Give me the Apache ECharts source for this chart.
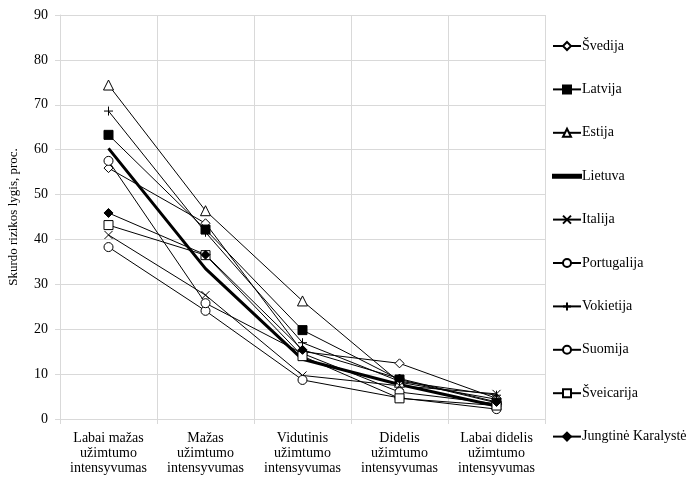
<!DOCTYPE html>
<html>
<head>
<meta charset="utf-8">
<script src="https://cdn.jsdelivr.net/npm/echarts@6/dist/echarts.min.js"></script>
<style>
  html, body { margin: 0; padding: 0; background: #fff; }
  #chart { width: 690px; height: 478px; }
</style>
</head>
<body>
<div id="chart"></div>
<script>
const categories = [
  'Labai mažas\nužimtumo\nintensyvumas',
  'Mažas\nužimtumo\nintensyvumas',
  'Vidutinis\nužimtumo\nintensyvumas',
  'Didelis\nužimtumo\nintensyvumas',
  'Labai didelis\nužimtumo\nintensyvumas'
]
const yTicks = [0, 10, 20, 30, 40, 50, 60, 70, 80, 90]

const svedija = [55.9, 43.6, 15.0, 12.4, 4.6]
const latvija = [63.3, 42.2, 19.8, 8.8, 3.6]
const estija = [74.4, 46.4, 26.3, 8.2, 4.4]
const lietuva = [60.3, 33.5, 13.3, 7.7, 2.9]
const italija = [41.0, 27.6, 9.7, 7.4, 5.6]
const portugalija = [38.3, 24.1, 8.7, 4.7, 2.2]
const vokietija = [68.6, 41.6, 17.0, 8.4, 5.3]
const suomija = [57.5, 25.8, 14.6, 6.0, 3.4]
const sveicarija = [43.2, 36.5, 14.0, 4.6, 3.0]
const jungtine = [45.9, 36.6, 15.4, 9.0, 3.8]

const font = 'Liberation Serif'

// open = white fill, solid = black fill
function line (name, data, symbol, size, fill) {
  return {
    name: name,
    type: 'line',
    data: data,
    symbol: symbol,
    symbolSize: size,
    showAllSymbol: true,
    lineStyle: { color: '#000', width: 1 },
    itemStyle: { color: fill, borderColor: '#000', borderWidth: 1 },
    emphasis: { disabled: true },
    animation: false
  }
}

const crossPath = 'path://M0,0L10,10M10,0L0,10'
const plusPath = 'path://M5,0L5,10M0,5L10,5'
// legend icon keeps aspect, so a 28x3 bar gives a 3px thick line
const thickLinePath = 'path://M0,0L28,0L28,3L0,3Z'

const option = {
  backgroundColor: '#fff',
  textStyle: { fontFamily: font },
  grid: { left: 60, right: 145, top: 15, bottom: 59, outerBoundsMode: 'none', containLabel: false },
  legend: {
    orient: 'vertical',
    left: 547,
    top: 34,
    itemWidth: 28,
    itemHeight: 10,
    itemGap: 29.4,
    textStyle: { fontFamily: font, fontSize: 14, color: '#000', padding: [0, 0, 0, -4] },
    data: ['Švedija', 'Latvija', 'Estija',
      { name: 'Lietuva', icon: thickLinePath },
      'Italija', 'Portugalija',
      'Vokietija', 'Suomija', 'Šveicarija', 'Jungtinė Karalystė']
  },
  xAxis: {
    type: 'category',
    data: categories,
    boundaryGap: true,
    axisLine: { lineStyle: { color: '#d9d9d9' } },
    axisTick: { show: true, length: 5, lineStyle: { color: '#d9d9d9' } },
    splitLine: { show: true, lineStyle: { color: '#d9d9d9' } },
    axisLabel: { interval: 0, color: '#000', fontFamily: font, fontSize: 14, lineHeight: 15, margin: 12 }
  },
  yAxis: {
    type: 'value',
    min: yTicks[0],
    max: yTicks[yTicks.length - 1],
    interval: 10,
    name: 'Skurdo rizikos lygis, proc.',
    nameLocation: 'middle',
    nameGap: 40,
    nameTextStyle: { color: '#000', fontFamily: font, fontSize: 13 },
    axisLine: { show: true, lineStyle: { color: '#d9d9d9' } },
    axisTick: { show: true, length: 5, lineStyle: { color: '#d9d9d9' } },
    splitLine: { lineStyle: { color: '#d9d9d9' } },
    axisLabel: { color: '#000', fontFamily: font, fontSize: 14, margin: 12 }
  },
  series: [
    line('Švedija', svedija, 'diamond', 9, '#fff'),
    line('Latvija', latvija, 'rect', 9, '#000'),
    line('Estija', estija, 'triangle', 10, '#fff'),
    Object.assign(line('Lietuva', lietuva, 'none', 0, '#000'), {
      lineStyle: { color: '#000', width: 3 }
    }),
    line('Italija', italija, crossPath, 8, '#000'),
    line('Portugalija', portugalija, 'circle', 9, '#fff'),
    line('Vokietija', vokietija, plusPath, 9, '#000'),
    line('Suomija', suomija, 'circle', 9, '#fff'),
    line('Šveicarija', sveicarija, 'rect', 9, '#fff'),
    line('Jungtinė Karalystė', jungtine, 'diamond', 9, '#000')
  ]
}

const myChart = echarts.init(document.getElementById('chart'))
myChart.setOption(option)
</script>
</body>
</html>
